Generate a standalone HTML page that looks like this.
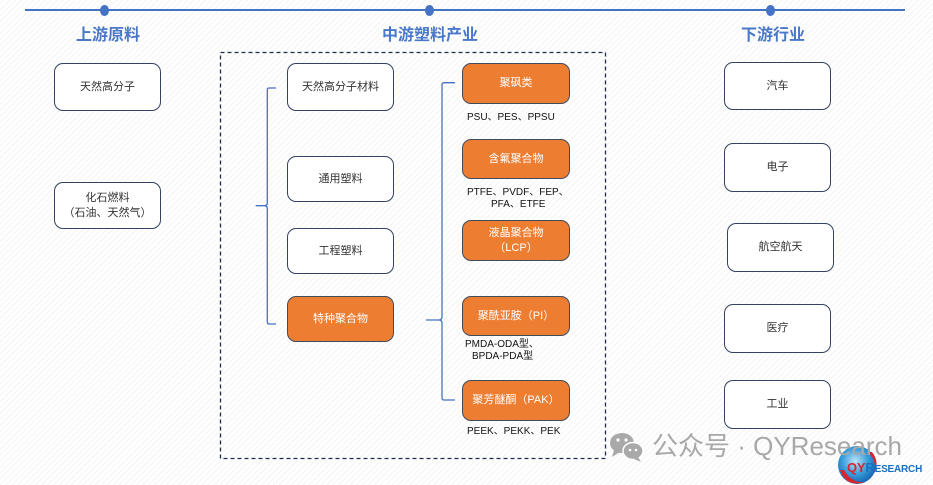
<!DOCTYPE html>
<html><head><meta charset="utf-8"><style>
html,body{margin:0;padding:0;}
body{width:933px;height:485px;position:relative;overflow:hidden;
background:#fff repeating-linear-gradient(135deg,#ffffff 0px,#ffffff 2px,#efefef 2.6px,#ffffff 3.4px,#ffffff 4.2px);
font-family:"Liberation Sans","Noto Sans CJK SC",sans-serif;}
.t{position:absolute;font-weight:bold;font-size:16px;color:#4a78c8;text-align:center;width:140px;line-height:16px;
font-family:"Liberation Sans","Noto Sans CJK SC",sans-serif;}
.b{position:absolute;box-sizing:border-box;border:1.5px solid #334261;border-radius:9px;background:#fff;
display:flex;align-items:center;justify-content:center;text-align:center;font-size:11px;line-height:15px;color:#333;}
.o{background:#ED7D31;color:#fff;border-color:#414b5e;}
.l{position:absolute;font-size:10px;line-height:12px;color:#111;white-space:nowrap;}
</style></head><body>
<svg width="933" height="485" style="position:absolute;left:0;top:0" xmlns="http://www.w3.org/2000/svg">
<line x1="25" y1="10" x2="905" y2="10" stroke="#4472C4" stroke-width="2"/>
<ellipse cx="104.5" cy="10.5" rx="4.5" ry="5.5" fill="#4472C4"/>
<ellipse cx="429.5" cy="10.5" rx="4.5" ry="5.5" fill="#4472C4"/>
<ellipse cx="770.5" cy="10.5" rx="4.5" ry="5.5" fill="#4472C4"/>
<rect x="220.5" y="52.5" width="385" height="406" fill="none" stroke="#1f2d4d" stroke-width="1.3" stroke-dasharray="4,3"/>
<path d="M276,88 H269 Q267.3,88 267.3,90 V203 Q267.3,205.7 264,205.7 H255.7 M264,205.7 Q267.3,205.7 267.3,208.5 V322 Q267.3,324 269,324 H276" fill="none" stroke="#4472C4" stroke-width="1.3"/>
<path d="M455,82.7 H444 Q442,83 442,85 V317 Q442,320 438.5,320 H426 M438.5,320 Q442,320 442,323 V398 Q442,400 444,400 H455" fill="none" stroke="#4472C4" stroke-width="1.3"/>
<!-- wechat icon -->
<g fill="#a9a9a9">
<ellipse cx="622" cy="443" rx="12" ry="10"/>
<path d="M614,450 L612,457 L620,452 Z"/>
<ellipse cx="633" cy="451" rx="10" ry="8.5" stroke="#fff" stroke-width="1.5"/>
<path d="M638,457 L641,462 L634,459 Z"/>
</g>
<g fill="#fff"><circle cx="618" cy="440" r="1.6"/><circle cx="626" cy="440" r="1.6"/><circle cx="630" cy="450" r="1.3"/><circle cx="636" cy="450" r="1.3"/></g>
<!-- logo -->
<defs><radialGradient id="g" cx="45%" cy="40%" r="60%"><stop offset="0" stop-color="#bfe3f7"/><stop offset="0.55" stop-color="#3aa0dc"/><stop offset="1" stop-color="#1566b4"/></radialGradient></defs>
<circle cx="857" cy="465" r="19" fill="url(#g)"/>
<path d="M840,470 Q846,488 866,482 Q852,484 844,470 Z" fill="#d9232d"/>
<path d="M872,452 Q880,462 874,474 Q878,462 868,452 Z" fill="#d9232d"/>
</svg>
<div class="t" style="left:38px;top:28px;">上游原料</div>
<div class="t" style="left:360px;top:28px;">中游塑料产业</div>
<div class="t" style="left:703px;top:28px;">下游行业</div>

<div class="b" style="left:54px;top:63px;width:107px;height:48px;">天然高分子</div>
<div class="b" style="left:54px;top:182px;width:107px;height:47px;">化石燃料<br>（石油、天然气）</div>

<div class="b" style="left:287px;top:63px;width:107px;height:48px;">天然高分子材料</div>
<div class="b" style="left:287px;top:156px;width:107px;height:46px;">通用塑料</div>
<div class="b" style="left:287px;top:228px;width:107px;height:46px;">工程塑料</div>
<div class="b o" style="left:287px;top:296px;width:107px;height:46px;">特种聚合物</div>

<div class="b o" style="left:462px;top:63px;width:108px;height:41px;">聚砜类</div>
<div class="l" style="left:467px;top:112px;">PSU、PES、PPSU</div>
<div class="b o" style="left:462px;top:139px;width:108px;height:40px;">含氟聚合物</div>
<div class="l" style="left:467px;top:187px;">PTFE、PVDF、FEP、</div>
<div class="l" style="left:491px;top:199px;">PFA、ETFE</div>
<div class="b o" style="left:462px;top:220px;width:108px;height:41px;">液晶聚合物<br>（LCP）</div>
<div class="b o" style="left:462px;top:296px;width:108px;height:40px;">聚酰亚胺（PI）</div>
<div class="l" style="left:465px;top:339px;">PMDA-ODA型、</div>
<div class="l" style="left:472px;top:351px;">BPDA-PDA型</div>
<div class="b o" style="left:462px;top:380px;width:108px;height:41px;">聚芳醚酮（PAK）</div>
<div class="l" style="left:467px;top:426px;">PEEK、PEKK、PEK</div>

<div class="b" style="left:724px;top:62px;width:107px;height:48px;">汽车</div>
<div class="b" style="left:724px;top:143px;width:107px;height:49px;">电子</div>
<div class="b" style="left:727px;top:223px;width:107px;height:49px;">航空航天</div>
<div class="b" style="left:724px;top:304px;width:107px;height:49px;">医疗</div>
<div class="b" style="left:724px;top:380px;width:107px;height:49px;">工业</div>

<div style="position:absolute;left:652px;top:432px;font-size:26px;line-height:29px;color:#a8a8a8;white-space:nowrap;">公众号 · QYResearch</div>
<div style="position:absolute;left:847px;top:461px;font-size:10px;line-height:13px;font-weight:bold;white-space:nowrap;letter-spacing:-0.2px;"><span style="color:#d9232d;font-size:13px;">QY</span><span style="color:#1a6fc0;"><span style="font-size:13px;">R</span>ESEARCH</span></div>
</body></html>
